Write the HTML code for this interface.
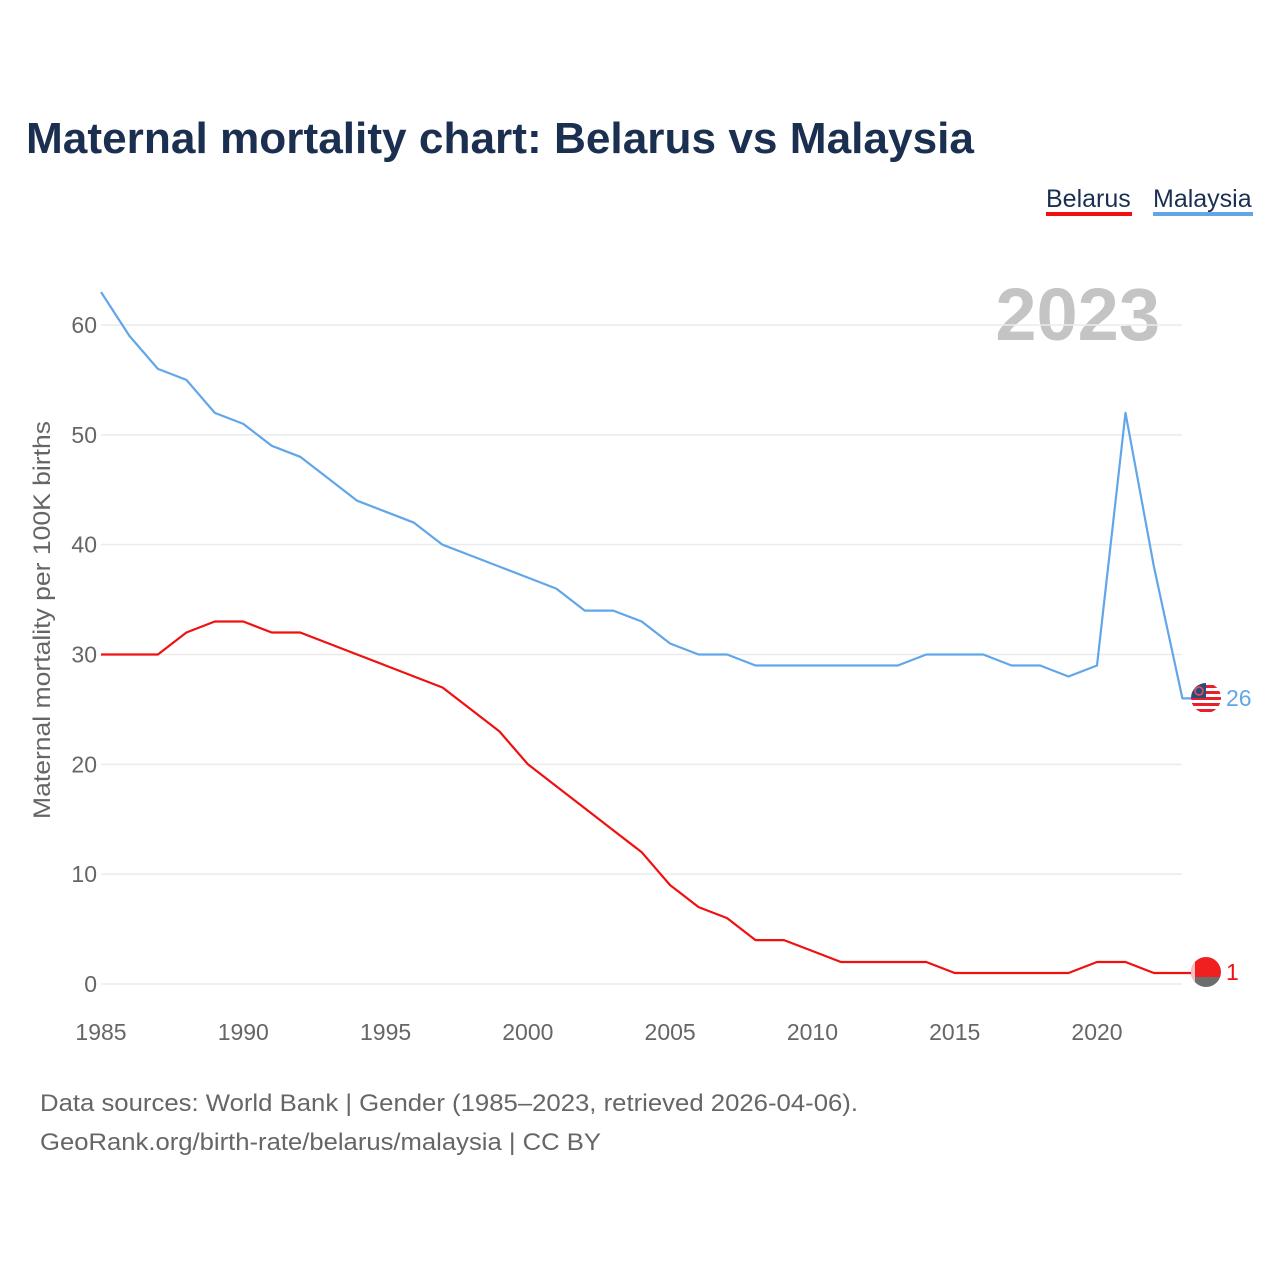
<!DOCTYPE html>
<html><head><meta charset="utf-8"><style>
body{margin:0;background:#fff;}
svg text{font-family:"Liberation Sans",sans-serif;}
</style></head><body>
<svg width="1280" height="1280" xmlns="http://www.w3.org/2000/svg" id="chart">
<text x="26" y="153" font-size="44" font-weight="bold" fill="#1b3050" textLength="948" lengthAdjust="spacingAndGlyphs">Maternal mortality chart: Belarus vs Malaysia</text>
<g>
<text x="1046" y="207" font-size="25" fill="#1b3050">Belarus</text>
<rect x="1046" y="212" width="86" height="4" fill="#f01010"/>
<text x="1153" y="207" font-size="25" fill="#1b3050">Malaysia</text>
<rect x="1153" y="212" width="100" height="4" fill="#62a6ea"/>
</g>
<text x="1160" y="340" font-size="74" font-weight="bold" fill="#c4c4c4" text-anchor="end">2023</text>
<g id="grid"></g>
<g id="xt"></g>
<text transform="translate(50,620) rotate(-90)" font-size="24" fill="#666" text-anchor="middle" textLength="398" lengthAdjust="spacingAndGlyphs">Maternal mortality per 100K births</text>
<g id="lines"></g>
<g>
<clipPath id="cm"><circle cx="1206" cy="698" r="15"/></clipPath>
<g clip-path="url(#cm)">
<rect x="1190" y="683" width="32" height="30" fill="#fff"/>
<rect x="1190" y="685" width="32" height="3" fill="#e8202a"/><rect x="1190" y="691" width="32" height="3" fill="#e8202a"/>
<rect x="1190" y="697" width="32" height="3" fill="#e8202a"/><rect x="1190" y="703" width="32" height="3" fill="#e8202a"/>
<rect x="1190" y="709" width="32" height="3" fill="#e8202a"/>
<rect x="1190" y="683" width="16" height="15" fill="#2a4a80"/>
<circle cx="1199" cy="691" r="4" fill="none" stroke="#f05050" stroke-width="1.5"/>
</g></g>
<g>
<clipPath id="cb"><circle cx="1206" cy="972" r="15"/></clipPath>
<g clip-path="url(#cb)">
<rect x="1190" y="957" width="32" height="20" fill="#f02020"/>
<rect x="1190" y="977" width="32" height="12" fill="#6b6e6b"/>
<rect x="1190" y="957" width="5" height="32" fill="#f5c0c0"/>
</g></g>
<text x="1226" y="706" font-size="23" fill="#62a6ea">26</text>
<text x="1226" y="980" font-size="23" fill="#f01010">1</text>
<text x="40" y="1111" font-size="24" fill="#666" textLength="818" lengthAdjust="spacingAndGlyphs">Data sources: World Bank | Gender (1985–2023, retrieved 2026-04-06).</text>
<text x="40" y="1150" font-size="24" fill="#666" textLength="561" lengthAdjust="spacingAndGlyphs">GeoRank.org/birth-rate/belarus/malaysia | CC BY</text>
</svg>
<script>
const years=[1985,1986,1987,1988,1989,1990,1991,1992,1993,1994,1995,1996,1997,1998,1999,2000,2001,2002,2003,2004,2005,2006,2007,2008,2009,2010,2011,2012,2013,2014,2015,2016,2017,2018,2019,2020,2021,2022,2023];
const malaysia=[63,59,56,55,52,51,49,48,46,44,43,42,40,39,38,37,36,34,34,33,31,30,30,29,29,29,29,29,29,30,30,30,29,29,28,29,52,38,26];
const belarus=[30,30,30,32,33,33,32,32,31,30,29,28,27,25,23,20,18,16,14,12,9,7,6,4,4,3,2,2,2,2,1,1,1,1,1,2,2,1,1];
const yTicks=[0,10,20,30,40,50,60];
const xTicks=[1985,1990,1995,2000,2005,2010,2015,2020];
const NS="http://www.w3.org/2000/svg";
const xS=y=>101+(y-1985)*(1097-101)/35;
const yS=v=>984-v*(984-325)/60;
function mk(t,a,p){const e=document.createElementNS(NS,t);for(const k in a)e.setAttribute(k,a[k]);p.appendChild(e);return e;}
const grid=document.getElementById('grid');
yTicks.forEach(v=>{
 const l=mk('line',{x1:101,x2:1182,y1:yS(v),y2:yS(v),stroke:'#ebebeb','stroke-width':1.5},grid);
 
 
 const t=mk('text',{x:97,y:yS(v)+8,'font-size':23,fill:'#666','text-anchor':'end'},grid);
 t.textContent=v;
 
 
});
const xt=document.getElementById('xt');
xTicks.forEach(v=>{
 const t=mk('text',{x:xS(v),y:1040,'font-size':23,fill:'#666','text-anchor':'middle'},xt);
 t.textContent=v;
 
 
});
const lines=document.getElementById('lines');
function series(vals,color,name){
 let d=vals.map((v,i)=>(i?'L':'M')+xS(years[i]).toFixed(1)+','+yS(v).toFixed(1)).join(' ');
 d+=' L'+(xS(years[years.length-1])+10)+','+yS(vals[vals.length-1]).toFixed(1);
 const p=mk('path',{d:d,fill:'none',stroke:color,'stroke-width':2.2,'stroke-linejoin':'round'},lines);
 
 
}
series(malaysia,'#62a6ea','malaysia-line');
series(belarus,'#f01010','belarus-line');
</script>
</body></html>
